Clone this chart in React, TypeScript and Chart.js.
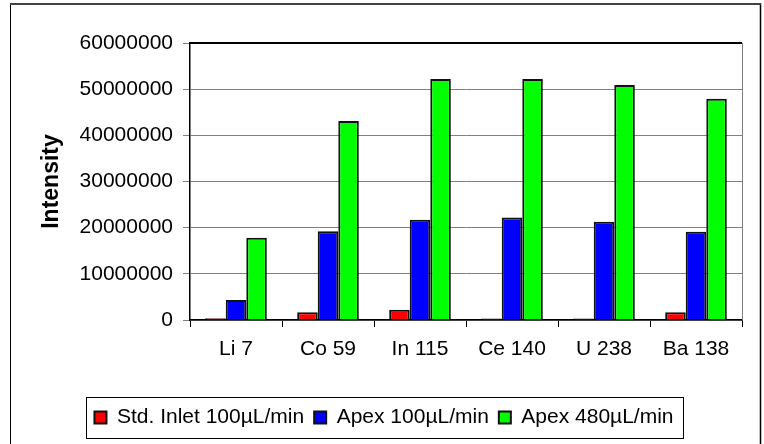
import React, { useEffect, useRef } from 'react';
import { Chart, registerables } from 'chart.js';

Chart.register(...registerables);

const categories = ['Li 7', 'Co 59', 'In 115', 'Ce 140', 'U 238', 'Ba 138'];
const seriesLabels = ['Std. Inlet 100µL/min', 'Apex 100µL/min', 'Apex 480µL/min'];
const stdInlet100 = [400000, 1700000, 2200000, 350000, 350000, 1700000];
const apex100 = [4350000, 19200000, 21700000, 22200000, 21300000, 19100000];
const apex480 = [17800000, 43100000, 52200000, 52200000, 50900000, 47900000];
const yMin = 0;
const yMax = 60000000;
const yStep = 10000000;
const axisTitle = 'Intensity';

const FONT = "'Liberation Sans', Arial, sans-serif";

const framePlugin = {
  id: 'frame',
  afterLayout(chart: any) {
    const lg = chart.legend;
    if (!lg) return;
    const w = lg.right - lg.left;
    const center = chart.width / 2 + 2;
    lg.left = center - w / 2;
    lg.right = center + w / 2;
  },
  afterDraw(chart: any) {
    const { ctx, chartArea: a, legend } = chart;
    const W = chart.width;
    const H = chart.height;
    ctx.save();
    // outer chart border
    ctx.strokeStyle = '#000';
    ctx.lineWidth = 1;
    ctx.beginPath();
    ctx.moveTo(10.5, 3);
    ctx.lineTo(10.5, H + 2);
    ctx.stroke();
    ctx.lineWidth = 1.5;
    ctx.beginPath();
    ctx.moveTo(W - 3.5, 3);
    ctx.lineTo(W - 3.5, H + 2);
    ctx.stroke();
    ctx.strokeStyle = '#404040';
    ctx.lineWidth = 2;
    ctx.beginPath();
    ctx.moveTo(10, 4);
    ctx.lineTo(W - 3, 4);
    ctx.stroke();
    // plot area top and right border
    ctx.strokeStyle = '#000';
    ctx.lineWidth = 2;
    ctx.beginPath();
    ctx.moveTo(a.left, a.top);
    ctx.lineTo(a.right, a.top);
    ctx.stroke();
    ctx.strokeStyle = '#808080';
    ctx.lineWidth = 1;
    ctx.beginPath();
    ctx.moveTo(a.right + 0.5, a.top);
    ctx.lineTo(a.right + 0.5, a.bottom);
    ctx.stroke();
    // legend border
    const boxes = legend && legend.legendHitBoxes;
    if (boxes && boxes.length) {
      let l = Infinity;
      let r = -Infinity;
      for (const b of boxes) {
        l = Math.min(l, b.left);
        r = Math.max(r, b.left + b.width);
      }
      ctx.strokeStyle = '#000';
      ctx.lineWidth = 1;
      ctx.strokeRect(Math.round(l - 8) + 0.5, Math.round(legend.top) + 0.5, Math.round(r - l + 18), Math.round(legend.bottom - legend.top));
    }
    ctx.restore();
  },
};

export default function App() {
  const ref = useRef<HTMLCanvasElement | null>(null);

  useEffect(() => {
    if (!ref.current) return;
    const chart = new Chart(ref.current, {
      type: 'bar',
      data: {
        labels: categories,
        datasets: [
          { label: seriesLabels[0], data: stdInlet100, backgroundColor: '#FF0000' },
          { label: seriesLabels[1], data: apex100, backgroundColor: '#0000FF' },
          { label: seriesLabels[2], data: apex480, backgroundColor: '#00FF00' },
        ].map((d) => ({
          ...d,
          borderColor: '#111',
          borderWidth: 2,
          barPercentage: 1,
          categoryPercentage: 0.67,
        })),
      },
      options: {
        animation: false,
        responsive: false,
        maintainAspectRatio: false,
        layout: { padding: { left: 10, right: 22, top: 43, bottom: 6 } },
        plugins: {
          tooltip: { enabled: false },
          legend: {
            position: 'bottom',
            labels: {
              boxWidth: 12,
              boxHeight: 12,
              padding: 10,
              color: '#000',
              font: { family: FONT, size: 21 },
            },
          },
        },
        scales: {
          x: {
            afterFit: (scale: any) => {
              scale.height = 77;
            },
            grid: {
              offset: true,
              drawOnChartArea: false,
              drawTicks: true,
              tickLength: 7,
              color: '#000',
            },
            border: { color: '#000', width: 1.5 },
            ticks: {
              color: '#000',
              padding: 10,
              font: { family: FONT, size: 21 },
              maxRotation: 0,
            },
          },
          y: {
            min: yMin,
            max: yMax,
            afterFit: (scale: any) => {
              scale.width = 180;
            },
            grid: {
              color: '#808080',
              lineWidth: 1,
              tickLength: 7,
              drawTicks: true,
            },
            border: { color: '#000', width: 1.5 },
            ticks: {
              stepSize: yStep,
              color: '#000',
              padding: 10,
              font: { family: FONT, size: 21 },
              callback: (v: any) => String(v),
            },
            title: {
              display: true,
              text: axisTitle,
              color: '#000',
              padding: { top: 28, bottom: 0 },
              font: { family: FONT, size: 23, weight: 'bold' },
            },
          },
        },
      },
      plugins: [framePlugin],
    });
    return () => chart.destroy();
  }, []);

  return (
    <div style={{ position: 'absolute', left: 0, top: 0, width: 764, height: 444, background: '#fff' }}>
      <canvas ref={ref} width={764} height={444} style={{ display: 'block', width: 764, height: 444 }} />
    </div>
  );
}
